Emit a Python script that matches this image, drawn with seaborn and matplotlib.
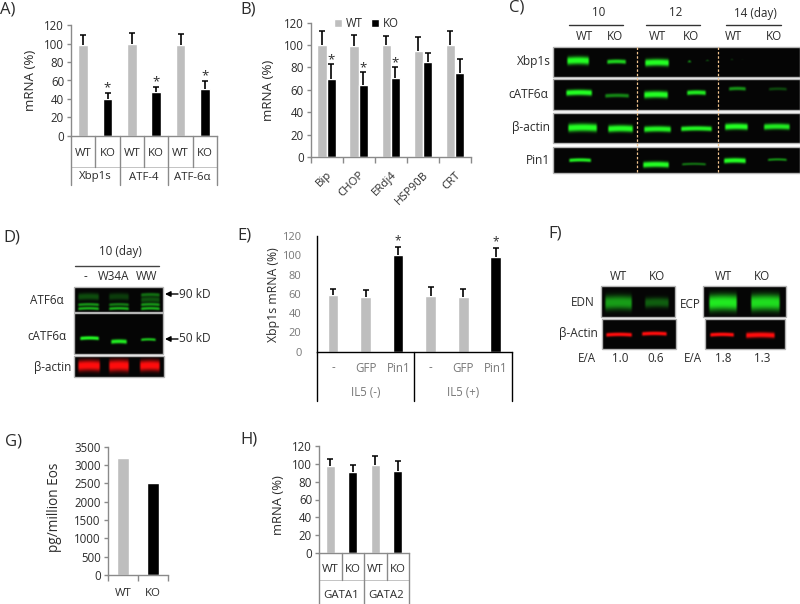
import numpy as np
import pandas as pd
import matplotlib
matplotlib.use("Agg")
import matplotlib.pyplot as plt
import seaborn as sns

# ── Data ─────────────────────────────────────────────────────
GRAY = "#BEBEBE"
PALETTE = {"WT": GRAY, "KO": "black"}

a_geno = ["WT", "KO", "WT", "KO", "WT", "KO"]
a_vals = [99, 40, 100, 47, 99, 51]
a_tops = [109, 46, 112, 53, 111, 59]
a_groups = ["Xbp1s", "ATF-4", "ATF-6α"]
a_stars = [1, 3, 5]

b_genes = ["Bip", "CHOP", "ERdj4", "HSP90B", "CRT"]
b_wt = [100, 99, 100, 95, 100]
b_ko = [70, 64, 71, 85, 75]
b_wt_tops = [113, 109, 108, 107, 113]
b_ko_tops = [83, 76, 80, 93, 88]
b_stars = [0, 1, 2]

e_labels = ["-", "GFP", "Pin1", "-", "GFP", "Pin1"]
e_geno = ["WT", "WT", "KO", "WT", "WT", "KO"]
e_vals = [59, 57, 100, 58, 57, 98]
e_tops = [65, 64, 109, 67, 65, 108]
e_groups = ["IL5 (-)", "IL5 (+)"]

g_geno = ["WT", "KO"]
g_vals = [3200, 2500]

h_geno = ["WT", "KO", "WT", "KO"]
h_vals = [98, 91, 99, 92]
h_tops = [105, 99, 109, 103]
h_groups = ["GATA1", "GATA2"]

# blot bands: x start, x end, y centre, half thickness, strength (image pixels)
c_xbp1s = [(566, 590, 61, 4, 1), (606, 627, 62, 2.2, .8), (644, 670, 63, 3.6, 1),
           (687, 692, 62, 1.3, .5), (705, 710, 61, 1, .25), (730, 734, 60, 1, .2), (741, 744, 60, .7, .1)]
c_catf6 = [(565, 593, 93, 3, 1), (604, 630, 96, 2, .5), (643, 669, 95, 3.5, 1),
           (686, 707, 93, 2.4, .9), (728, 747, 89, 1.9, .55), (768, 788, 89.3, 1.6, .25)]
c_actin = [(567, 598, 128, 4, 1), (607, 634, 129, 3.5, 1), (643, 672, 129.5, 3, .95),
           (680, 713, 129, 2.5, .95), (724, 749, 127, 3.2, 1), (763, 791, 127, 3, .9)]
c_pin1 = [(568, 592, 160.5, 1.9, .9), (642, 670, 165, 3, 1), (681, 707, 164.5, 1.4, .4),
          (723, 747, 161, 2.6, 1), (767, 788, 160, 1.4, .5)]
d_atf6 = [(77, 100, 305, 1.6, .55), (77, 100, 309, 1.6, .65), (77, 100, 297, 3.5, .28),
          (108, 130, 305, 1.6, .45), (108, 130, 309, 1.6, .65), (108, 130, 297, 3.5, .22),
          (140, 161, 295, 1.8, .4), (140, 161, 300, 3, .3), (140, 161, 305, 1.6, .55), (140, 161, 309, 1.6, .65)]
d_catf6 = [(79, 100, 338.6, 1.9, .95), (110, 128, 342, 2.2, .9), (140, 157, 340, 1.5, .7)]
d_actin = [(77, 101, 366, 5.5, 1), (108, 130, 366, 6, 1), (139, 161, 366, 5.5, 1)]
f_edn = [(604, 633, 303, 7, .6), (644, 670, 303, 5, .35)]
f_ecp = [(708, 738, 303, 8, .9), (750, 781, 303, 8, .85)]
f_actin_l = [(605, 633, 335, 2, 1), (641, 668, 334, 2, 1)]
f_actin_r = [(709, 735, 335, 2, 1), (745, 776, 335.5, 2.8, 1)]

GREEN = (0.12, 1.0, 0.12)
RED = (1.0, 0.03, 0.03)

# ── Setup ────────────────────────────────────────────────────
W, H = 800, 604
sns.set_theme(style="white")
plt.rcParams["font.family"] = ["Open Sans", "DejaVu Sans"]
plt.rcParams["font.size"] = 8
TXT = "#2b2b2b"
AX = "#8a8a8a"

fig = plt.figure(figsize=(W / 100, H / 100), dpi=100, facecolor="white")

overlay = fig.add_axes([0, 0, 1, 1], zorder=5)
overlay.patch.set_alpha(0)
overlay.axis("off")


def px_axes(left, right, top, bottom):
    return fig.add_axes([left / W, 1 - bottom / H, (right - left) / W, (bottom - top) / H])


def style_axes(ax, ymax, step, color=AX, tick_color=TXT, size=8.3):
    sns.despine(ax=ax)
    ax.set_ylim(0, ymax)
    ax.set_yticks(np.arange(0, ymax + 1, step))
    ax.set_ylabel("")
    ax.set_xlabel("")
    for s in ("left", "bottom"):
        ax.spines[s].set_color(color)
        ax.spines[s].set_linewidth(1)
    ax.tick_params(axis="y", left=True, length=3, width=1, color=color,
                   labelsize=size, labelcolor=tick_color, pad=2)
    ax.tick_params(axis="x", bottom=False, labelbottom=False)
    ax.patch.set_alpha(0)


def whiskers(ax, xs, vals, tops, cap=2.3):
    for x, v, t in zip(xs, vals, tops):
        ax.plot([x, x], [v, t], color="black", lw=1.2, solid_capstyle="butt", zorder=4)
        ax.plot([x], [t], marker="_", color="black", ms=cap * 2, mew=1.1, zorder=4)


def bar_panel(ax, geno, vals, width):
    df = pd.DataFrame({"pos": range(len(vals)), "val": vals, "geno": geno})
    sns.barplot(data=df, x="pos", y="val", hue="geno", palette=PALETTE, dodge=False,
                width=width, legend=False, ax=ax, saturation=1)
    ax.set_xlim(-0.5, len(vals) - 0.5)


def txt(x, y, s, ha="center", va="center", size=8.2, color=TXT, **kw):
    overlay.text(x, y, s, ha=ha, va=va, fontsize=size, color=color, **kw)


def table(left, right, per_group, labels, groups, y_top, y_mid, y_bot, y_lab, y_grp, color=AX, tcolor=TXT):
    n = len(labels)
    xs = np.linspace(left, right, n + 1)
    for i, x in enumerate(xs):
        end = y_bot if i % per_group == 0 else y_mid
        overlay.plot([x, x], [y_top, end], color=color, lw=1)
    overlay.plot([left, right], [y_mid, y_mid], color=color, lw=0.6, alpha=0.6)
    for i, lab in enumerate(labels):
        txt((xs[i] + xs[i + 1]) / 2, y_lab, lab, color=tcolor)
    for i, g in enumerate(groups):
        txt((xs[i * per_group] + xs[(i + 1) * per_group]) / 2, y_grp, g, color=tcolor)


def blot(x0, y0, x1, y1, bands, rgb=GREEN, edge="#b5b5b5"):
    xx, yy = np.meshgrid(np.linspace(x0, x1, int(x1 - x0) * 3),
                         np.linspace(y0, y1, int(y1 - y0) * 3))
    v = np.zeros_like(xx)
    for xa, xb, yc, th, amp in bands:
        # bands bend a little towards their ends, like a gel smile
        bend = 0.6 * np.sin((xx - xa) / max(xb - xa, 1) * 3.1)
        prof = np.exp(-np.abs((yy - yc + bend) / th) ** 2.5)
        ends = np.clip((xx - xa) / 2.5, 0, 1) * np.clip((xb - xx) / 2.5, 0, 1)
        v = v + amp * prof * ends
    v = np.clip(v, 0, 1)
    img = np.dstack([v * rgb[0] + 0.02, v * rgb[1] + 0.02, v * rgb[2] + 0.02])
    overlay.imshow(np.clip(img, 0, 1), extent=(x0, x1, y1, y0), aspect="auto",
                   interpolation="bilinear", zorder=2)
    overlay.add_patch(plt.Rectangle((x0, y0), x1 - x0, y1 - y0, fill=False,
                                    edgecolor=edge, lw=1, zorder=3))


# ── A ────────────────────────────────────────────────────────
ax_a = px_axes(71, 217, 25.3, 135.7)
bar_panel(ax_a, a_geno, a_vals, 0.41)
style_axes(ax_a, 120, 20)
whiskers(ax_a, range(len(a_vals)), a_vals, a_tops)
for i in a_stars:
    ax_a.text(i, a_tops[i] + 6, "*", ha="center", va="center", fontsize=9.5, color=TXT)
table(71, 217, 2, a_geno, a_groups, 135.7, 167, 185, 153, 177)
txt(31, 80, "mRNA (%)", rotation=90, size=9.6)

# ── B ────────────────────────────────────────────────────────
ax_b = px_axes(310.7, 471, 22.7, 157)
df_b = pd.DataFrame({"gene": b_genes * 2, "val": b_wt + b_ko,
                     "geno": ["WT"] * len(b_wt) + ["KO"] * len(b_ko)})
sns.barplot(data=df_b, x="gene", y="val", hue="geno", palette=PALETTE, width=0.58,
            gap=0, saturation=1, ax=ax_b)
style_axes(ax_b, 120, 20)
ax_b.set_xlim(-0.5, 4.5)
centers = np.arange(len(b_genes))
whiskers(ax_b, centers - 0.145, b_wt, b_wt_tops)
whiskers(ax_b, centers + 0.145, b_ko, b_ko_tops)
for i in b_stars:
    ax_b.text(i + 0.145, b_ko_tops[i] + 4, "*", ha="center", va="center", fontsize=9.5, color=TXT)
ax_b.set_xticks(np.arange(-0.5, 5), labels=[])
ax_b.set_xticks(centers, labels=b_genes, minor=True)
ax_b.tick_params(axis="x", which="major", bottom=True, length=4, width=1, color=AX)
ax_b.tick_params(axis="x", which="minor", bottom=False, labelbottom=True, labelsize=8.2,
                 labelcolor=TXT, pad=5)
for lab in ax_b.get_xticklabels(minor=True):
    lab.set_rotation(45)
    lab.set_ha("right")
    lab.set_rotation_mode("anchor")
ax_b.legend(loc="upper left", bbox_to_anchor=(0.145, 1.04), ncol=2, frameon=False, fontsize=8.3,
            handlelength=0.7, handleheight=0.7, handletextpad=0.35, columnspacing=0.7,
            labelcolor=TXT, borderaxespad=0, borderpad=0)
txt(269, 90, "mRNA (%)", rotation=90, size=9.6)

# ── C ────────────────────────────────────────────────────────
c_rows = [(47, 77, c_xbp1s, "Xbp1s", 551, 61), (79, 110, c_catf6, "cATF6α", 548, 94),
          (113, 143, c_actin, "β-actin", 550, 127), (147, 173, c_pin1, "Pin1", 550, 160)]
for y0, y1, bands, name, tx, ty in c_rows:
    blot(553, y0, 800, y1, bands)
    txt(tx, ty, name, ha="right", size=8.6)
for x in (637, 718):
    overlay.plot([x, x], [47, 173], color="#F2C48E", lw=0.9, ls=(0, (2, 1.5)), zorder=4)
for s, x, xa, xb in [("10", 599, 569, 623), ("12", 676, 646, 700), ("14 (day)", 755, 726, 781)]:
    txt(x, 13, s, size=8.4)
    overlay.plot([xa, xb], [25, 25], color="#333333", lw=1)
for s, x in zip(["WT", "KO", "WT", "KO", "WT", "KO"], [584, 615, 657, 691, 733, 774]):
    txt(x, 36, s, size=8.4)

# ── D ────────────────────────────────────────────────────────
blot(74, 287, 163, 312, d_atf6)
blot(74, 313, 163, 354, d_catf6)
blot(74, 356, 164, 377, d_actin, rgb=RED)
txt(120, 252, "10 (day)", size=8.4)
overlay.plot([75, 159], [266, 266], color="#444444", lw=1)
for s, x in zip(["-", "W34A", "WW"], [85, 114, 147]):
    txt(x, 277, s, size=8.4)
txt(63.5, 300, "ATF6α", ha="right", size=8.4)
txt(66.6, 336, "cATF6α", ha="right", size=8.4)
txt(71, 367, "β-actin", ha="right", size=8.4)
for y, s in [(294, "90 kD"), (339, "50 kD")]:
    overlay.annotate("", xy=(165, y), xytext=(178, y),
                     arrowprops=dict(arrowstyle="-|>", color="black", lw=1, mutation_scale=8,
                                     shrinkA=0, shrinkB=0))
    txt(179, y, s, ha="left", size=8.6)

# ── E ────────────────────────────────────────────────────────
ax_e = px_axes(316.7, 512, 236.2, 351.7)
bar_panel(ax_e, e_geno, e_vals, 0.33)
style_axes(ax_e, 120, 20, color="black", tick_color="#777777", size=8)
ax_e.tick_params(axis="y", left=False, pad=8)
whiskers(ax_e, range(len(e_vals)), e_vals, e_tops)
for i in (2, 5):
    ax_e.text(i, e_tops[i] + 6, "*", ha="center", va="center", fontsize=8.5, color=TXT)
for x in (316.7, 414, 512):
    overlay.plot([x, x], [351.7, 401], color="black", lw=1)
for x, s in zip(np.linspace(333, 496, 6), e_labels):
    txt(x, 368, s, color="#777777", size=8.3)
for x, s in zip((366, 463), e_groups):
    txt(x, 392, s, color="#777777", size=8.3)
txt(274, 295, "Xbp1s mRNA (%)", rotation=90, size=8.8)

# ── F ────────────────────────────────────────────────────────
blot(601, 286, 675, 317, f_edn)
blot(703, 286, 786, 317, f_ecp)
blot(602, 319, 676, 349, f_actin_l, rgb=RED)
blot(705, 319, 785, 349, f_actin_r, rgb=RED)
for s, x in zip(["WT", "KO", "WT", "KO"], [618, 657, 723, 762]):
    txt(x, 276, s, size=8.4)
txt(595, 303, "EDN", ha="right", size=8.4)
txt(701, 304, "ECP", ha="right", size=8.4)
txt(598, 333, "β-Actin", ha="right", size=8.6)
for s, x in zip(["E/A", "1.0", "0.6", "E/A", "1.8", "1.3"], [587, 620, 656, 693, 723, 762]):
    txt(x, 359, s, size=8.4)

# ── G ────────────────────────────────────────────────────────
ax_g = px_axes(107.7, 168, 446.7, 575)
bar_panel(ax_g, g_geno, g_vals, 0.4)
style_axes(ax_g, 3500, 500)
ax_g.set_xticks([-0.5, 0.5, 1.5], labels=[])
ax_g.tick_params(axis="x", bottom=True, length=4, width=1, color=AX)
for x, s in zip((123, 153), g_geno):
    txt(x, 593, s)
txt(55, 507, "pg/million Eos", rotation=90, size=9.8)

# ── H ────────────────────────────────────────────────────────
ax_h = px_axes(319, 409, 446, 553)
bar_panel(ax_h, h_geno, h_vals, 0.41)
style_axes(ax_h, 120, 20)
whiskers(ax_h, range(len(h_vals)), h_vals, h_tops)
table(319, 409, 2, h_geno, h_groups, 553, 580, 604, 570, 595)
txt(279, 505, "mRNA (%)", rotation=90, size=9.4)

# ── Panel letters ────────────────────────────────────────────
for s, x, y in [("A)", 0, 10), ("B)", 240, 9), ("C)", 509, 8), ("D)", 3, 238), ("E)", 237, 236),
                ("F)", 548, 234), ("G)", 5, 442), ("H)", 240, 439)]:
    txt(x, y, s, ha="left", size=12)

overlay.set_xlim(0, W)
overlay.set_ylim(H, 0)

fig.savefig("out.png", dpi=100, facecolor="white")
